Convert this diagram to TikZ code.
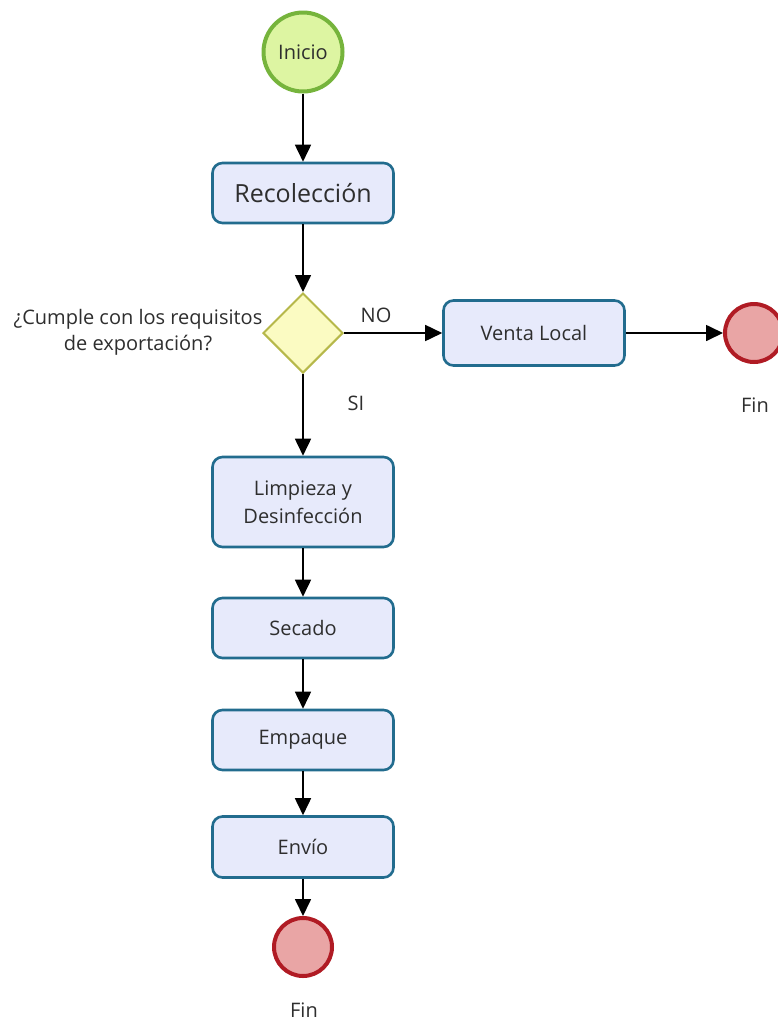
\documentclass[tikz,border=0pt]{standalone}
\usepackage{fontspec}
\setmainfont{Open Sans}
\usetikzlibrary{arrows.meta,shapes.geometric}
\definecolor{txt}{HTML}{2E2E2E}
\definecolor{startfill}{HTML}{DDF5A2}
\definecolor{startline}{HTML}{76B43C}
\definecolor{taskfill}{HTML}{E7EAFB}
\definecolor{taskline}{HTML}{226C8E}
\definecolor{gatefill}{HTML}{FBFBC2}
\definecolor{gateline}{HTML}{B6B84A}
\definecolor{endfill}{HTML}{E9A5A5}
\definecolor{endline}{HTML}{B01B24}
\tikzset{
  x=1pt, y=-1pt,
  every node/.style={text=txt, font=\fontsize{20}{26}\selectfont},
  task/.style={draw=taskline, fill=taskfill, line width=2.6pt, rounded corners=10pt,
    minimum width=181pt, align=center, inner sep=0pt},
  startev/.style={circle, draw=startline, fill=startfill, line width=4pt, minimum size=79pt, inner sep=0pt},
  endev/.style={circle, draw=endline, fill=endfill, line width=4pt, minimum size=58pt, inner sep=0pt},
  gate/.style={diamond, aspect=1, draw=gateline, fill=gatefill, line width=2pt, minimum size=80pt, inner sep=0pt},
  flow/.style={line width=1.7pt, draw=black, -{Triangle[length=17pt,width=16pt]}},
  lbl/.style={align=center}
}
\begin{document}
\begin{tikzpicture}
\useasboundingbox (0,0) rectangle (777,1026);
\fill[white] (0,0) rectangle (777,1026);

% events, tasks and the gateway
\node[startev] (inicio) at (303,52) {Inicio};
\node[task, minimum height=60pt, font=\fontsize{25}{30}\selectfont] (recol) at (303,193) {Recolección};
\node[gate] (gw) at (303,333) {};
\node[task, minimum height=65pt] (venta) at (534,333) {Venta Local};
\node[endev] (fin1) at (754,333) {};
\node[task, minimum height=90pt, font=\fontsize{20}{28}\selectfont] (limp) at (303,502) {Limpieza y\\Desinfección};
\node[task, minimum height=60pt] (secado) at (303,628) {Secado};
\node[task, minimum height=60pt] (empaque) at (303,740) {Empaque};
\node[task, minimum height=61pt] (envio) at (303,847) {Envío};
\node[endev] (fin2) at (303,947) {};

% labels
\node[lbl] (q) at (138,332) {¿Cumple con los requisitos\\de exportación?};
\node (no) at (376,315) {NO};
\node (si) at (356,403) {SI};
\node (fin1l) at (755,405) {Fin};
\node (fin2l) at (304,1010) {Fin};

% sequence flows
\draw[flow] (inicio) -- (recol);
\draw[flow] (recol) -- (gw);
\draw[flow] (gw) -- (venta);
\draw[flow] (venta) -- (fin1);
\draw[flow] (gw) -- (limp);
\draw[flow] (limp) -- (secado);
\draw[flow] (secado) -- (empaque);
\draw[flow] (empaque) -- (envio);
\draw[flow] (envio) -- (fin2);
\end{tikzpicture}
\end{document}
